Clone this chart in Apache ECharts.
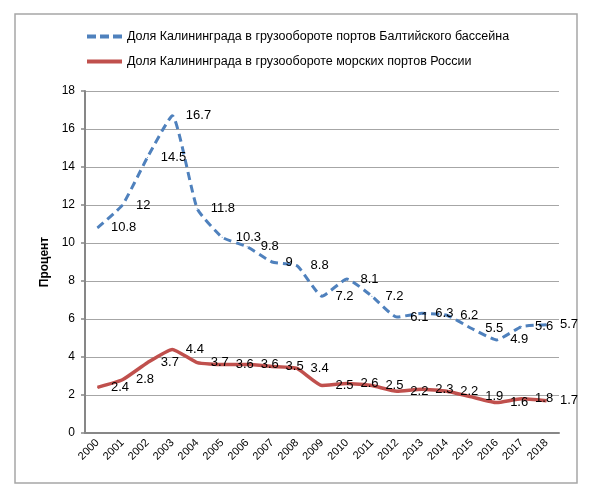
<!DOCTYPE html>
<html>
<head>
<meta charset="utf-8">
<script src="https://cdn.jsdelivr.net/npm/echarts@6/dist/echarts.min.js"></script>
<style>
  html, body { margin: 0; padding: 0; background: #fff; }
  #chart { width: 592px; height: 494px; }
</style>
</head>
<body>
<div id="chart"></div>
<script>
// --- data ---
const years = ['2000', '2001', '2002', '2003', '2004', '2005', '2006', '2007', '2008', '2009',
               '2010', '2011', '2012', '2013', '2014', '2015', '2016', '2017', '2018'];
const balticShare = [10.8, 12, 14.5, 16.7, 11.8, 10.3, 9.8, 9, 8.8, 7.2,
                     8.1, 7.2, 6.1, 6.3, 6.2, 5.5, 4.9, 5.6, 5.7];
const russiaShare = [2.4, 2.8, 3.7, 4.4, 3.7, 3.6, 3.6, 3.5, 3.4, 2.5,
                     2.6, 2.5, 2.2, 2.3, 2.2, 1.9, 1.6, 1.8, 1.7];
const balticName = 'Доля Калининграда в грузообороте портов Балтийского бассейна';
const russiaName = 'Доля Калининграда в грузообороте морских портов России';

const font = '"Liberation Sans", Arial, sans-serif';
const chart = echarts.init(document.getElementById('chart'), null, { renderer: 'canvas' });

const dataLabel = {
    show: true,
    position: 'right',
    distance: 13,
    color: '#000',
    fontSize: 13,
    fontFamily: font
};

chart.setOption({
    backgroundColor: '#fff',
    animation: false,
    textStyle: { fontFamily: font },
    graphic: [{
        type: 'rect',
        shape: { x: 15, y: 14, width: 562, height: 469 },
        style: { fill: 'none', stroke: '#a6a6a6', lineWidth: 1.5 },
        silent: true
    }],
    legend: {
        orient: 'vertical',
        left: 85,
        top: 30,
        padding: 0,
        itemWidth: 35,
        itemHeight: 14,
        itemGap: 12,
        itemStyle: { opacity: 0 },
        textStyle: { color: '#000', fontSize: 12.5, fontFamily: font },
        data: [
            { name: balticName, lineStyle: { width: 4, type: [9, 4] } },
            { name: russiaName, lineStyle: { width: 4 } }
        ]
    },
    grid: { left: 85, right: 33, top: 91, bottom: 61 },
    xAxis: {
        type: 'category',
        data: years,
        boundaryGap: true,
        axisLine: { lineStyle: { color: '#878787', width: 2 } },
        axisTick: { length: 4, lineStyle: { color: '#878787', width: 1.5 } },
        axisLabel: { rotate: 45, interval: 0, margin: 8, color: '#000', fontSize: 11, fontFamily: font }
    },
    yAxis: {
        type: 'value',
        min: 0,
        max: 18,
        interval: 2,
        name: 'Процент',
        nameLocation: 'middle',
        nameGap: 27,
        nameTextStyle: { color: '#000', fontSize: 12, fontWeight: 'bold', fontFamily: font },
        axisLine: { show: true, lineStyle: { color: '#878787', width: 2 } },
        axisTick: { show: true, length: 4, lineStyle: { color: '#878787', width: 1.5 } },
        axisLabel: { margin: 10, color: '#000', fontSize: 12, fontFamily: font },
        splitLine: { lineStyle: { color: '#a6a6a6', width: 1 } }
    },
    series: [
        {
            name: balticName,
            type: 'line',
            data: balticShare,
            smooth: 0.15,
            symbol: 'circle',
            symbolSize: 1,
            itemStyle: { color: '#4f81bd' },
            lineStyle: { color: '#4f81bd', width: 3, type: [8, 5] },
            label: dataLabel
        },
        {
            name: russiaName,
            type: 'line',
            data: russiaShare,
            smooth: 0.15,
            symbol: 'circle',
            symbolSize: 1,
            itemStyle: { color: '#c0504d' },
            lineStyle: { color: '#c0504d', width: 3.5 },
            label: dataLabel
        }
    ]
});
</script>
</body>
</html>
